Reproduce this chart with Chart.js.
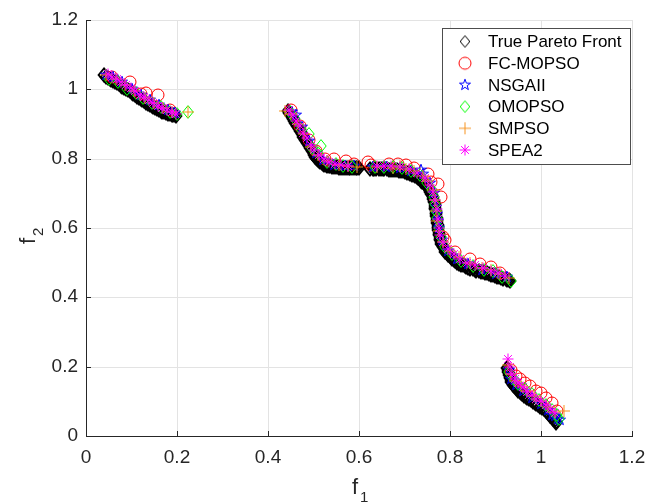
<!DOCTYPE html>
<html>
<head>
<meta charset="utf-8">
<script src="https://cdn.jsdelivr.net/npm/chart.js@4.4.1/dist/chart.umd.min.js"></script>
<style>
  html, body { margin: 0; padding: 0; background: #fff; }
  #wrap { width: 661px; height: 503px; }
</style>
</head>
<body>
<div id="wrap"><canvas id="paretoChart" width="661" height="503"></canvas></div>
<script>
// tick labels on both axes
const xTicks = [0, 0.2, 0.4, 0.6, 0.8, 1, 1.2];
const yTicks = [0, 0.2, 0.4, 0.6, 0.8, 1, 1.2];
const seriesNames = ['True Pareto Front', 'FC-MOPSO', 'NSGAII', 'OMOPSO', 'SMPSO', 'SPEA2'];

// every point is [f1, f2]
const truePF = [
  [0.040,1.040],[0.044,1.037],[0.048,1.033],[0.052,1.030],[0.056,1.027],[0.060,1.024],[0.064,1.021],
  [0.068,1.017],[0.072,1.014],[0.076,1.011],[0.080,1.008],[0.084,1.004],[0.088,1.001],[0.092,0.997],
  [0.096,0.994],[0.100,0.990],[0.104,0.987],[0.108,0.983],[0.112,0.979],[0.116,0.976],[0.120,0.972],
  [0.124,0.968],[0.128,0.965],[0.132,0.961],[0.136,0.958],[0.140,0.955],[0.144,0.952],[0.148,0.949],
  [0.152,0.946],[0.156,0.943],[0.160,0.941],[0.164,0.938],[0.168,0.936],[0.172,0.934],[0.176,0.932],
  [0.180,0.930],[0.184,0.929],[0.188,0.927],[0.192,0.926],[0.195,0.925],[0.198,0.924],
  [0.444,0.937],[0.446,0.933],[0.448,0.929],[0.450,0.925],[0.452,0.921],[0.454,0.917],[0.456,0.913],
  [0.458,0.908],[0.460,0.904],[0.462,0.899],[0.464,0.895],[0.466,0.890],[0.468,0.886],[0.470,0.881],
  [0.472,0.877],[0.474,0.872],[0.476,0.868],[0.478,0.863],[0.480,0.859],[0.482,0.854],[0.484,0.850],
  [0.486,0.845],[0.488,0.841],[0.490,0.836],[0.492,0.832],[0.494,0.827],[0.496,0.823],[0.498,0.818],
  [0.500,0.814],[0.502,0.810],[0.504,0.806],[0.506,0.802],[0.508,0.799],[0.510,0.796],[0.513,0.792],
  [0.515,0.789],[0.518,0.787],[0.521,0.785],[0.524,0.783],[0.527,0.781],[0.530,0.780],[0.533,0.779],
  [0.537,0.778],[0.541,0.777],[0.545,0.776],[0.549,0.775],[0.553,0.775],[0.557,0.774],[0.561,0.774],
  [0.565,0.774],[0.569,0.774],[0.573,0.774],[0.577,0.774],[0.581,0.773],[0.585,0.773],[0.589,0.773],
  [0.593,0.773],[0.596,0.773],[0.599,0.773],
  [0.625,0.770],[0.630,0.770],[0.634,0.770],[0.638,0.770],[0.643,0.770],[0.648,0.770],[0.652,0.770],
  [0.656,0.769],[0.661,0.769],[0.666,0.768],[0.670,0.768],[0.675,0.767],[0.679,0.767],[0.684,0.766],
  [0.688,0.765],[0.692,0.764],[0.697,0.763],[0.701,0.762],[0.705,0.760],[0.709,0.758],[0.713,0.756],
  [0.717,0.754],[0.720,0.752],[0.724,0.749],[0.727,0.746],[0.730,0.743],[0.733,0.740],[0.736,0.737],
  [0.739,0.734],[0.742,0.731],[0.744,0.727],[0.747,0.724],[0.749,0.720],[0.751,0.716],[0.753,0.712],
  [0.755,0.708],[0.757,0.703],[0.759,0.699],[0.760,0.694],[0.762,0.689],[0.763,0.684],[0.764,0.679],
  [0.765,0.674],[0.766,0.669],[0.767,0.664],[0.768,0.659],[0.768,0.654],[0.769,0.649],[0.769,0.644],
  [0.770,0.639],[0.770,0.634],[0.771,0.629],[0.771,0.624],[0.772,0.619],[0.772,0.614],[0.773,0.609],
  [0.773,0.604],[0.774,0.599],[0.774,0.594],[0.775,0.589],[0.775,0.584],[0.776,0.579],[0.777,0.574],
  [0.778,0.569],[0.779,0.564],[0.780,0.560],[0.781,0.555],[0.783,0.550],[0.784,0.546],[0.786,0.541],
  [0.788,0.537],[0.790,0.532],[0.793,0.528],[0.796,0.523],[0.799,0.519],[0.802,0.515],[0.805,0.511],
  [0.808,0.507],[0.812,0.504],[0.816,0.500],[0.820,0.497],[0.824,0.494],[0.828,0.492],[0.832,0.489],
  [0.836,0.487],[0.840,0.485],[0.845,0.483],[0.850,0.481],[0.854,0.479],[0.858,0.477],[0.863,0.476],
  [0.868,0.474],[0.872,0.472],[0.876,0.470],[0.881,0.469],[0.886,0.467],[0.890,0.465],[0.894,0.463],
  [0.899,0.461],[0.904,0.460],[0.908,0.458],[0.912,0.456],[0.917,0.454],[0.922,0.452],[0.926,0.450],
  [0.929,0.449],[0.931,0.448],
  [0.926,0.196],[0.927,0.191],[0.928,0.186],[0.929,0.181],[0.930,0.176],[0.931,0.171],[0.932,0.166],
  [0.933,0.161],[0.935,0.157],[0.937,0.152],[0.939,0.148],[0.941,0.143],[0.944,0.139],[0.947,0.135],
  [0.950,0.131],[0.953,0.127],[0.956,0.123],[0.959,0.120],[0.963,0.116],[0.966,0.112],[0.970,0.109],
  [0.974,0.106],[0.978,0.103],[0.982,0.099],[0.986,0.096],[0.990,0.092],[0.994,0.089],[0.998,0.085],
  [1.002,0.081],[1.006,0.077],[1.010,0.072],[1.014,0.068],[1.017,0.063],[1.020,0.059],[1.024,0.054],
  [1.027,0.050],[1.030,0.045],[1.032,0.041],[1.034,0.037]
];

const fcMopso = [
  [0.058,1.036],[0.096,1.021],[0.120,0.987],[0.132,0.989],[0.158,0.985],[0.185,0.940],
  [0.451,0.939],[0.470,0.895],[0.490,0.855],[0.505,0.822],[0.525,0.800],[0.546,0.800],[0.572,0.793],[0.590,0.785],
  [0.619,0.789],[0.627,0.782],
  [0.667,0.786],[0.685,0.784],[0.704,0.781],[0.720,0.772],[0.751,0.757],[0.759,0.734],[0.773,0.728],
  [0.780,0.690],[0.784,0.574],[0.788,0.565],[0.810,0.530],[0.843,0.512],[0.865,0.495],[0.891,0.488],[0.910,0.470],
  [0.935,0.190],[0.945,0.172],[0.953,0.165],[0.965,0.152],[0.975,0.145],[0.990,0.130],[1.000,0.123],
  [1.012,0.110],[1.025,0.095],[1.035,0.072]
];

const nsgaii = [
  [0.045,1.040],[0.060,1.035],[0.080,1.020],[0.100,1.000],[0.120,0.985],[0.140,0.970],[0.160,0.955],
  [0.180,0.940],[0.195,0.932],
  [0.452,0.935],[0.462,0.925],[0.475,0.890],[0.490,0.850],[0.505,0.815],[0.520,0.795],[0.545,0.782],
  [0.570,0.780],[0.590,0.778],
  [0.630,0.776],[0.660,0.775],[0.690,0.772],[0.715,0.765],[0.737,0.768],[0.740,0.755],[0.755,0.730],
  [0.765,0.700],[0.770,0.660],[0.772,0.640],[0.774,0.620],[0.776,0.600],[0.782,0.565],[0.795,0.535],
  [0.815,0.510],[0.840,0.495],[0.870,0.480],[0.900,0.468],[0.925,0.458],
  [0.930,0.190],[0.935,0.165],[0.945,0.148],[0.960,0.130],[0.980,0.110],[1.000,0.092],[1.015,0.075],
  [1.025,0.062],[1.030,0.058],[1.038,0.048],[1.042,0.045]
];

const omopso = [
  [0.050,1.030],[0.070,1.020],[0.090,1.000],[0.110,0.988],[0.125,0.975],[0.145,0.962],[0.165,0.948],
  [0.185,0.935],[0.200,0.930],[0.224,0.935],
  [0.448,0.935],[0.460,0.915],[0.472,0.885],[0.491,0.872],[0.497,0.830],[0.510,0.815],[0.517,0.836],
  [0.530,0.790],[0.550,0.785],[0.565,0.778],[0.585,0.776],
  [0.635,0.775],[0.655,0.776],[0.675,0.776],[0.695,0.772],[0.715,0.765],[0.735,0.752],[0.750,0.730],
  [0.760,0.710],[0.765,0.690],[0.768,0.670],[0.770,0.650],[0.771,0.630],[0.775,0.600],[0.780,0.575],
  [0.790,0.545],[0.805,0.525],[0.825,0.505],[0.850,0.490],[0.875,0.480],[0.895,0.475],[0.915,0.460],[0.935,0.447],
  [0.930,0.185],[0.940,0.165],[0.950,0.150],[0.965,0.135],[0.980,0.120],[0.995,0.105],[1.010,0.090],
  [1.025,0.075],[1.035,0.060],[1.040,0.050]
];

const smpso = [
  [0.045,1.042],[0.065,1.030],[0.085,1.012],[0.105,0.995],[0.130,0.975],[0.150,0.960],[0.170,0.945],
  [0.190,0.935],[0.224,0.935],
  [0.438,0.938],[0.450,0.930],[0.465,0.900],[0.480,0.870],[0.495,0.835],[0.510,0.810],[0.530,0.792],
  [0.555,0.782],[0.575,0.779],[0.595,0.777],
  [0.640,0.777],[0.674,0.773],[0.690,0.778],[0.704,0.769],[0.720,0.765],[0.740,0.750],[0.752,0.735],
  [0.762,0.710],[0.768,0.680],[0.770,0.650],[0.772,0.620],[0.776,0.590],[0.785,0.560],[0.800,0.535],
  [0.820,0.515],[0.845,0.500],[0.870,0.485],[0.890,0.478],[0.910,0.468],[0.930,0.455],
  [0.928,0.205],[0.933,0.180],[0.942,0.160],[0.955,0.145],[0.970,0.130],[0.985,0.115],[1.000,0.100],
  [1.015,0.085],[1.030,0.070],[1.050,0.072]
];

const spea2 = [
  [0.048,1.043],[0.058,1.035],[0.068,1.030],[0.078,1.022],[0.088,1.012],[0.098,1.005],[0.108,0.995],
  [0.118,0.985],[0.128,0.978],[0.138,0.968],[0.148,0.960],[0.158,0.952],[0.168,0.945],[0.178,0.940],
  [0.188,0.935],[0.198,0.930],
  [0.447,0.940],[0.455,0.925],[0.462,0.910],[0.470,0.895],[0.478,0.875],[0.486,0.860],[0.494,0.840],
  [0.502,0.825],[0.512,0.810],[0.522,0.800],[0.535,0.790],[0.548,0.785],[0.560,0.783],[0.575,0.780],
  [0.640,0.780],[0.655,0.780],[0.670,0.778],[0.690,0.777],[0.710,0.770],[0.728,0.760],[0.745,0.745],
  [0.755,0.725],[0.762,0.705],[0.768,0.680],[0.771,0.655],[0.773,0.625],[0.775,0.600],[0.778,0.580],
  [0.785,0.560],[0.795,0.540],[0.808,0.525],[0.822,0.510],[0.838,0.500],[0.855,0.492],[0.872,0.485],
  [0.890,0.477],[0.905,0.470],[0.920,0.462],
  [0.928,0.222],[0.932,0.200],[0.936,0.180],[0.942,0.165],[0.950,0.152],[0.960,0.140],[0.970,0.128],
  [0.980,0.118],[0.990,0.108],[1.000,0.100],[1.010,0.090],[1.020,0.078],[1.030,0.065]
];

// MATLAB-like marker glyphs drawn on small canvases
function makeMarker(size, lineWidth, draw) {
  const c = document.createElement('canvas');
  c.width = size;
  c.height = size;
  const g = c.getContext('2d');
  g.lineWidth = lineWidth;
  draw(g, size / 2);
  return c;
}
const diamond = (color, lw, hw, hh) => makeMarker(18, lw, (g, c) => {
  g.strokeStyle = color;
  g.beginPath();
  g.moveTo(c, c - hh); g.lineTo(c + hw, c); g.lineTo(c, c + hh); g.lineTo(c - hw, c);
  g.closePath();
  g.stroke();
});
const circle = color => makeMarker(16, 1, (g, c) => {
  g.strokeStyle = color;
  g.beginPath();
  g.arc(c, c, 6, 0, Math.PI * 2);
  g.stroke();
});
const pentagram = color => makeMarker(16, 1, (g, c) => {
  g.strokeStyle = color;
  g.beginPath();
  for (let i = 0; i < 10; i++) {
    const r = i % 2 ? 2.3 : 5.8;
    const a = -Math.PI / 2 + i * Math.PI / 5;
    const px = c + r * Math.cos(a), py = c + r * Math.sin(a);
    i ? g.lineTo(px, py) : g.moveTo(px, py);
  }
  g.closePath();
  g.stroke();
});
const plus = color => makeMarker(16, 1, (g, c) => {
  g.strokeStyle = color;
  g.beginPath();
  g.moveTo(c - 6, c); g.lineTo(c + 6, c);
  g.moveTo(c, c - 6); g.lineTo(c, c + 6);
  g.stroke();
});
const asterisk = color => makeMarker(16, 1, (g, c) => {
  g.strokeStyle = color;
  g.beginPath();
  for (let i = 0; i < 4; i++) {
    const a = i * Math.PI / 4;
    g.moveTo(c - 5.5 * Math.cos(a), c - 5.5 * Math.sin(a));
    g.lineTo(c + 5.5 * Math.cos(a), c + 5.5 * Math.sin(a));
  }
  g.stroke();
});

// legend glyphs, and the ones used on the plot (the front is drawn heavier)
const legendMarkers = [
  diamond('#000000', 1, 4.8, 5.8),
  circle('#ff0000'),
  pentagram('#0000ff'),
  diamond('#00ff00', 1, 4.8, 5.8),
  plus('#f7931e'),
  asterisk('#ff00ff')
];
const plotMarkers = legendMarkers.slice();
plotMarkers[0] = diamond('#000000', 1.9, 5.4, 6.6);
plotMarkers[3] = diamond('#00ff00', 1, 5.2, 6.4);

const seriesData = [truePF, fcMopso, nsgaii, omopso, smpso, spea2];

const textColor = '#262626';
const font = 'Liberation Sans, Arial, Helvetica, sans-serif';

// inward ticks, axis labels and the boxed legend
const matlabAxes = {
  id: 'matlabAxes',
  beforeDatasetsDraw(chart) {
    const { ctx, chartArea, scales } = chart;
    ctx.save();
    ctx.strokeStyle = textColor;
    ctx.lineWidth = 1;
    ctx.beginPath();
    xTicks.forEach(v => {
      const px = Math.round(scales.x.getPixelForValue(v)) + 0.5;
      ctx.moveTo(px, chartArea.bottom);
      ctx.lineTo(px, chartArea.bottom - 5);
    });
    yTicks.forEach(v => {
      const py = Math.round(scales.y.getPixelForValue(v)) + 0.5;
      ctx.moveTo(chartArea.left, py);
      ctx.lineTo(chartArea.left + 5, py);
    });
    ctx.stroke();
    ctx.restore();
  },
  afterDraw(chart) {
    const { ctx, chartArea } = chart;
    ctx.save();
    ctx.fillStyle = textColor;
    ctx.textBaseline = 'alphabetic';
    ctx.textAlign = 'left';

    // f1 under the x axis
    const midX = (chartArea.left + chartArea.right) / 2;
    ctx.font = '22px ' + font;
    ctx.fillText('f', midX - 7, 494);
    ctx.font = '15px ' + font;
    ctx.fillText('1', midX + 1, 502);

    // f2 beside the y axis
    const midY = (chartArea.top + chartArea.bottom) / 2;
    ctx.translate(35, midY + 16);
    ctx.rotate(-Math.PI / 2);
    ctx.font = '22px ' + font;
    ctx.fillText('f', 0, 0);
    ctx.font = '15px ' + font;
    ctx.fillText('2', 8, 8);
    ctx.setTransform(1, 0, 0, 1, 0, 0);

    // legend box
    const box = { left: 442.5, top: 28.5, width: 188, height: 136 };
    ctx.fillStyle = '#ffffff';
    ctx.fillRect(box.left, box.top, box.width, box.height);
    ctx.strokeStyle = '#4d4d4d';
    ctx.lineWidth = 1;
    ctx.strokeRect(box.left, box.top, box.width, box.height);
    ctx.font = '17px ' + font;
    ctx.textBaseline = 'middle';
    ctx.fillStyle = '#000000';
    seriesNames.forEach((name, i) => {
      const cy = 41.5 + i * 21.7;
      const m = legendMarkers[i];
      ctx.drawImage(m, 465 - m.width / 2, cy - m.height / 2);
      ctx.fillText(name, 488, cy + 1);
    });
    ctx.restore();
  }
};

const ctx = document.getElementById('paretoChart').getContext('2d');
const paretoChart = new Chart(ctx, {
  type: 'scatter',
  data: {
    datasets: seriesNames.map((name, i) => ({
      label: name,
      data: seriesData[i].map(p => ({ x: p[0], y: p[1] })),
      pointStyle: plotMarkers[i],
      pointRadius: 5,
      order: seriesNames.length - i
    }))
  },
  options: {
    responsive: false,
    animation: false,
    events: [],
    layout: { padding: { left: 0, right: 29, top: 20, bottom: 0 } },
    plugins: {
      legend: { display: false },
      tooltip: { enabled: false }
    },
    scales: {
      x: {
        type: 'linear',
        min: 0,
        max: 1.2,
        alignToPixels: true,
        afterBuildTicks: s => { s.ticks = xTicks.map(v => ({ value: v })); },
        afterFit: s => { s.height = 67; },
        grid: { color: '#e3e3e3', lineWidth: 1, drawTicks: false },
        border: { display: true, color: textColor, width: 1 },
        ticks: {
          padding: 10,
          color: textColor,
          font: { family: font, size: 19 },
          maxRotation: 0,
          callback: v => String(v)
        }
      },
      y: {
        type: 'linear',
        min: 0,
        max: 1.2,
        alignToPixels: true,
        afterBuildTicks: s => { s.ticks = yTicks.map(v => ({ value: v })); },
        afterFit: s => { s.width = 86; },
        grid: { color: '#e3e3e3', lineWidth: 1, drawTicks: false },
        border: { display: true, color: textColor, width: 1 },
        ticks: {
          padding: 8,
          color: textColor,
          font: { family: font, size: 19 },
          callback: v => String(v)
        }
      }
    }
  },
  plugins: [matlabAxes]
});
</script>
</body>
</html>
